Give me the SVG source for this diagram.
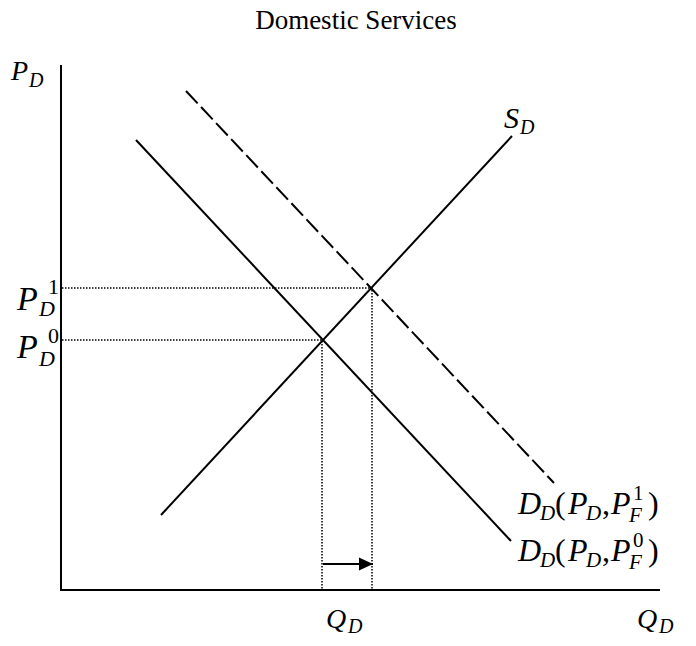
<svg xmlns="http://www.w3.org/2000/svg" width="696" height="646" viewBox="0 0 696 646">
<style>
.t{font-family:"Liberation Serif","Times New Roman",serif;fill:#000}
.i{font-style:italic}
.ln{stroke:#000;stroke-width:2;fill:none}
.dot{stroke:#000;stroke-width:1.5;stroke-dasharray:1.5 1.5;fill:none}
.dash{stroke:#000;stroke-width:2;stroke-dasharray:17 5;fill:none}
</style>
<defs>
<marker id="ah" markerWidth="15" markerHeight="15" refX="14" refY="7" orient="auto" markerUnits="userSpaceOnUse">
<path d="M0,0.5 L14,7 L0,13.5 Z" fill="#000"/>
</marker>
</defs>
<rect width="696" height="646" fill="#fff"/>
<text id="title" class="t" x="356" y="29" font-size="27" text-anchor="middle">Domestic Services</text>
<g id="connectors">
<path id="axes" class="ln" d="M61,65 V590 H660"/>
<line id="supply" class="ln" x1="161" y1="515" x2="512" y2="136"/>
<line id="demand0" class="ln" x1="136" y1="140" x2="511" y2="541"/>
<line id="demand1" class="dash" x1="186" y1="91" x2="554" y2="483"/>
<path class="dot" d="M62,288 H372 V590"/>
<path class="dot" d="M62,340 H322 V590"/>
<line id="shift" class="ln" x1="323" y1="564" x2="373" y2="564" marker-end="url(#ah)"/>
</g>
<g id="label-PD">
<text class="t i" x="11" y="80" font-size="28">P</text>
<text class="t i" x="29" y="87" font-size="20">D</text>
</g>
<g id="label-PD1">
<text class="t i" x="17" y="310" font-size="34">P</text>
<text class="t" x="48" y="294" font-size="22">1</text>
<text class="t i" x="39" y="316" font-size="22">D</text>
</g>
<g id="label-PD0">
<text class="t i" x="17" y="358" font-size="34">P</text>
<text class="t" x="48" y="343" font-size="22">0</text>
<text class="t i" x="39" y="366" font-size="22">D</text>
</g>
<g id="label-SD">
<text class="t i" x="504" y="128" font-size="30">S</text>
<text class="t i" x="520" y="134" font-size="20">D</text>
</g>
<g id="label-DD1">
<text class="t i" x="518" y="514" font-size="32">D</text>
<text class="t i" x="540" y="520" font-size="21">D</text>
<text class="t" x="555" y="514" font-size="32">(</text>
<text class="t i" x="568" y="514" font-size="32">P</text>
<text class="t i" x="586" y="520" font-size="21">D</text>
<text class="t" x="602" y="514" font-size="32">,</text>
<text class="t i" x="611" y="514" font-size="32">P</text>
<text class="t" x="633" y="500" font-size="21">1</text>
<text class="t i" x="629" y="522" font-size="21">F</text>
<text class="t" x="648" y="514" font-size="32">)</text>
</g>
<g id="label-DD0">
<text class="t i" x="518" y="561" font-size="32">D</text>
<text class="t i" x="540" y="567" font-size="21">D</text>
<text class="t" x="555" y="561" font-size="32">(</text>
<text class="t i" x="568" y="561" font-size="32">P</text>
<text class="t i" x="586" y="567" font-size="21">D</text>
<text class="t" x="602" y="561" font-size="32">,</text>
<text class="t i" x="611" y="561" font-size="32">P</text>
<text class="t" x="633" y="547" font-size="21">0</text>
<text class="t i" x="629" y="569" font-size="21">F</text>
<text class="t" x="648" y="561" font-size="32">)</text>
</g>
<g id="label-QD-mid">
<text class="t i" x="326" y="628" font-size="28">Q</text>
<text class="t i" x="348" y="633" font-size="20">D</text>
</g>
<g id="label-QD-axis">
<text class="t i" x="637" y="628" font-size="28">Q</text>
<text class="t i" x="659" y="633" font-size="20">D</text>
</g>
</svg>
